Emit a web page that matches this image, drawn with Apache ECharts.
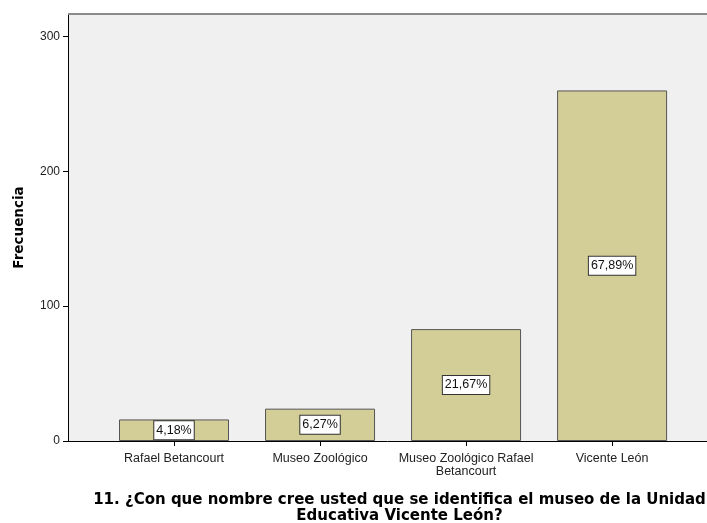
<!DOCTYPE html>
<html><head><meta charset="utf-8">
<script src="https://cdn.jsdelivr.net/npm/echarts@6/dist/echarts.min.js"></script>
<style>html,body{margin:0;padding:0;background:#fff}#c{width:707px;height:523px}</style>
</head><body><div id="c"></div>
<script>
const categories = ['Rafael Betancourt', 'Museo Zoológico', 'Museo Zoológico Rafael\nBetancourt', 'Vicente León'];
const frequencies = [16, 24, 83, 260];
const percentLabels = ['4,18%', '6,27%', '21,67%', '67,89%'];
const yTicks = [0, 100, 200, 300];
const yTitle = 'Frecuencia';
const xTitle = '11. ¿Con que nombre cree usted que se identifica el museo de la Unidad\nEducativa Vicente León?';

const FONT = 'Liberation Sans, Arial, sans-serif';
const BFONT = 'DejaVu Sans, sans-serif';
const chart = echarts.init(document.getElementById('c'), null, {renderer: 'canvas'});
chart.setOption({
  animation: false,
  backgroundColor: '#fff',
  grid: {left: 68, right: 0, top: 14, bottom: 82, show: true, backgroundColor: '#f0f0f0', borderWidth: 0,
         outerBoundsMode: 'none', containLabel: false},
  xAxis: {
    type: 'value', min: -0.726, max: 3.65,
    splitLine: {show: false},
    axisLine: {show: true, onZero: false, lineStyle: {color: '#000', width: 1}},
    axisTick: {show: true, length: 5, customValues: [0,1,2,3], lineStyle: {color: '#000'}},
    axisLabel: {customValues: [0,1,2,3], formatter: v => categories[v] || '', color: '#222', fontSize: 12.5, fontFamily: FONT, margin: 11, lineHeight: 13},
    name: xTitle, nameLocation: 'middle', nameGap: 51,
    nameTextStyle: {fontWeight: 'bold', fontSize: 15, fontFamily: BFONT, color: '#000', lineHeight: 16, padding: [0,0,0,24]}
  },
  yAxis: {
    type: 'value', min: 0, max: 316.7,
    splitLine: {show: false},
    axisLine: {show: true, onZero: false, lineStyle: {color: '#000', width: 1}},
    axisTick: {show: true, length: 5, customValues: yTicks, lineStyle: {color: '#000'}},
    axisLabel: {customValues: yTicks, color: '#222', fontSize: 12, fontFamily: FONT, margin: 8},
    name: yTitle, nameLocation: 'middle', nameGap: 42, nameRotate: 90,
    nameTextStyle: {fontWeight: 'bold', fontSize: 13.5, fontFamily: BFONT, color: '#000'}
  },
  graphic: [{type: 'line', shape: {x1: 68, y1: 14, x2: 707, y2: 14}, style: {stroke: '#8a8a8a', lineWidth: 2}, z: 100}],
  series: [{
    type: 'bar',
    barWidth: 110,
    data: frequencies.map((v, i) => [i, v]),
    itemStyle: {color: '#d3ce97', borderColor: '#555', borderWidth: 1},
    label: {
      show: true, position: 'inside',
      formatter: p => percentLabels[p.dataIndex],
      color: '#111', fontSize: 12.5, fontFamily: FONT,
      backgroundColor: '#fff', borderColor: '#333', borderWidth: 1, padding: [3, 2, 2, 2]
    }
  }]
});
</script></body></html>
